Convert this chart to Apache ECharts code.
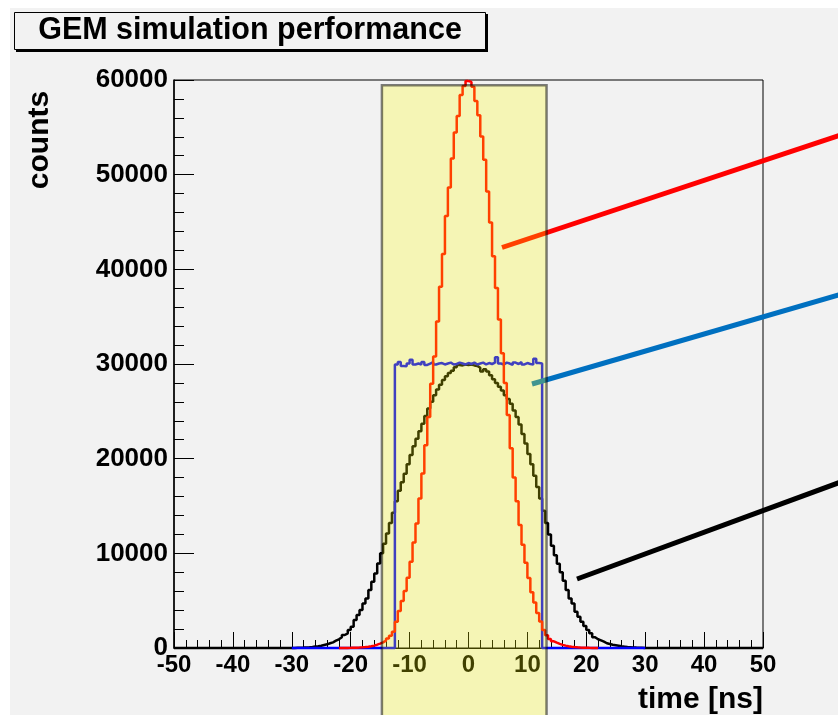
<!DOCTYPE html>
<html>
<head>
<meta charset="utf-8">
<script src="https://cdn.jsdelivr.net/npm/echarts@6/dist/echarts.min.js"></script>
<style>
html, body { margin: 0; padding: 0; background: #fff; }
#wrap { position: relative; width: 838px; height: 715px; }
#bg { position: absolute; left: 10px; top: 8px; right: 0; bottom: 0; background: #f2f2f2; }
#main { position: absolute; left: 0; top: 0; width: 838px; height: 715px; }
</style>
</head>
<body>
<div id="wrap"><div id="bg"></div><div id="main"></div></div>
<script>
// histogram bins, 0.5 ns wide
var binWidth = 0.5;

// red: narrow gaussian, bins from -22 ns
var redRange = [-22, 22];
var redStart = -22;
var redCounts = [
    5, 8, 12, 18, 25, 35, 50, 70, 100, 140,
    190, 250, 350, 460, 600, 780, 1000, 1300, 1720, 2780,
    3900, 4960, 6010, 7420, 9100, 11140, 13150, 15780, 18420, 21410,
    24390, 27910, 30790, 34480, 38170, 41620, 45630, 48650, 51700, 54450,
    56200, 58420, 59370, 59900,
    59800, 59300, 57790, 56280, 54020, 51570, 48220, 44960, 41370, 38030,
    34690, 31140, 28000, 24600, 21100, 18000, 15500, 13000, 10900, 9000,
    7400, 5900, 4800, 3700, 2800, 1900, 1350, 950, 700, 560,
    430, 330, 250, 190, 140, 100, 70, 50, 35, 25,
    15, 10, 6, 3
];

// blue: flat distribution from -12.5 to 12.5 ns
var blueRange = [-30, 30];
var blueStart = -12.5;
var blueCounts = [
    29950, 30200, 29800, 29750, 30050, 30450, 29950, 30050, 29950, 30200,
    29900, 30050, 30200, 29950, 30050, 30100, 29950, 30050, 30150, 29950,
    30000, 30150, 30050, 29950, 30100, 30000, 30150, 29950, 30050, 30150,
    29950, 30100, 30000, 30150, 30700, 30050, 29950, 30150, 30050, 29900,
    30150, 30000, 30200, 29950, 30100, 30000, 29950, 30550, 30100, 30050
];

// black: wide distribution, bins from -30 ns
var blackRange = [-50, 50];
var blackStart = -30;
var blackCounts = [
    10, 20, 30, 40, 60, 80, 110, 150, 190, 240,
    320, 390, 500, 600, 770, 920, 1130, 1370, 1550, 1900,
    2250, 2950, 3480, 4010, 4710, 5240, 6120, 6990, 7870, 8930,
    10000, 11000, 12100, 13200, 14300, 15500, 16600, 17500, 18400, 19400,
    20400, 21300, 22100, 22900, 23700, 24500, 25300, 26000, 26700, 27300,
    27800, 28300, 28700, 29050, 29300, 29650, 29900, 29850, 29950, 29900,
    29950, 29850, 29800, 29600, 29200, 29450, 29200, 28800, 28400, 28000,
    27600, 27200, 26700, 26300, 25800, 25100, 24400, 23600, 22600, 21600,
    20500, 19400, 18200, 17000, 15800, 14500, 13200, 12000, 10800, 9800,
    8900, 8000, 7100, 6120, 5240, 4710, 3830, 3300, 2780, 2320,
    1900, 1550, 1130, 920, 800, 670, 500, 420, 350, 300,
    240, 180, 140, 100, 80, 60, 40, 30, 20, 10
];

// shaded time window
var windowFrom = -14.7;
var windowTo = 13.25;
var windowTop = 59450;

var font = '"Liberation Sans", Arial, Helvetica, sans-serif';

function histPoints(range, start, counts) {
    var pts = [];
    var n = Math.round((range[1] - range[0]) / binWidth);
    for (var i = 0; i < n; i++) {
        var e = range[0] + i * binWidth;
        var k = Math.round((e - start) / binWidth);
        var v = (k >= 0 && k < counts.length) ? counts[k] : 0;
        pts.push([e, v]);
    }
    pts.push([range[1], pts[pts.length - 1][1]]);
    return pts;
}

function histSeries(name, pts, color, z) {
    return {
        name: name,
        type: 'line',
        step: 'end',
        data: pts,
        symbol: 'none',
        clip: false,
        z: z,
        lineStyle: { color: color, width: 2.5 },
        animation: false
    };
}

var myChart = echarts.init(document.getElementById('main'));

var option = {
    backgroundColor: 'transparent',
    animation: false,
    grid: {
        left: 174, right: 75, top: 80, bottom: 67,
        show: true, borderColor: '#000', borderWidth: 1,
        backgroundColor: 'transparent'
    },
    xAxis: {
        type: 'value',
        min: -50, max: 50, interval: 10,
        axisLine: { show: true, onZero: false, lineStyle: { color: '#000', width: 1 } },
        axisTick: { show: true, inside: true, length: 16, lineStyle: { color: '#000', width: 1 } },
        minorTick: { show: true, splitNumber: 5, length: 8, lineStyle: { color: '#000', width: 1 } },
        splitLine: { show: false },
        axisLabel: { color: '#000', fontSize: 24, fontWeight: 'bold', fontFamily: font, margin: 5 }
    },
    yAxis: {
        type: 'value',
        min: 0, max: 60000, interval: 10000,
        axisLine: { show: true, onZero: false, lineStyle: { color: '#000', width: 1.5 } },
        axisTick: { show: true, inside: true, length: 20, lineStyle: { color: '#000', width: 1 } },
        minorTick: { show: true, splitNumber: 5, length: 10, lineStyle: { color: '#000', width: 1 } },
        splitLine: { show: false },
        axisLabel: {
            color: '#000', fontSize: 26, fontWeight: 'bold', fontFamily: font, margin: 6,
            formatter: function (v) { return String(v); }
        }
    },
    series: [
        histSeries('wide', histPoints(blackRange, blackStart, blackCounts), '#000000', 2),
        histSeries('flat', histPoints(blueRange, blueStart, blueCounts), '#0000ff', 3),
        histSeries('narrow', histPoints(redRange, redStart, redCounts), '#ff0000', 4)
    ]
};
myChart.setOption(option);

// decorations: title box, axis titles, pointer lines, shaded window
var p1 = myChart.convertToPixel({ gridIndex: 0 }, [windowFrom, windowTop]);
var p2 = myChart.convertToPixel({ gridIndex: 0 }, [windowTo, 0]);

myChart.setOption({
    graphic: [
        { type: 'rect', z: 10, shape: { x: 16, y: 14, width: 472, height: 38 }, style: { fill: '#000' } },
        { type: 'rect', z: 11, shape: { x: 14.5, y: 12.5, width: 471, height: 37 },
          style: { fill: '#f2f2f2', stroke: '#000', lineWidth: 1 } },
        { type: 'text', z: 12, x: 250, y: 31,
          style: { text: 'GEM simulation performance', font: 'bold 30.5px ' + font, fill: '#000',
                   textAlign: 'center', textVerticalAlign: 'middle' } },
        { type: 'text', z: 12, x: 40, y: 140, rotation: Math.PI / 2,
          style: { text: 'counts', font: 'bold 30px ' + font, fill: '#000',
                   textAlign: 'center', textVerticalAlign: 'middle' } },
        { type: 'text', z: 12, x: 763, y: 700,
          style: { text: 'time [ns]', font: 'bold 30px ' + font, fill: '#000',
                   textAlign: 'right', textVerticalAlign: 'middle' } },
        { type: 'line', z: 20, shape: { x1: 502, y1: 247.5, x2: 845, y2: 133.6 },
          style: { stroke: '#ff0000', lineWidth: 5 } },
        { type: 'line', z: 20, shape: { x1: 532, y1: 384, x2: 845, y2: 293 },
          style: { stroke: '#0070c0', lineWidth: 5 } },
        { type: 'line', z: 20, shape: { x1: 577, y1: 579, x2: 845, y2: 480.4 },
          style: { stroke: '#000000', lineWidth: 5 } },
        { type: 'rect', z: 100,
          shape: { x: p1[0], y: p1[1], width: p2[0] - p1[0], height: 740 - p1[1] },
          style: { fill: 'rgba(255,255,0,0.25)', stroke: 'rgba(0,0,0,0.5)', lineWidth: 2.5 } }
    ]
});
</script>
</body>
</html>
